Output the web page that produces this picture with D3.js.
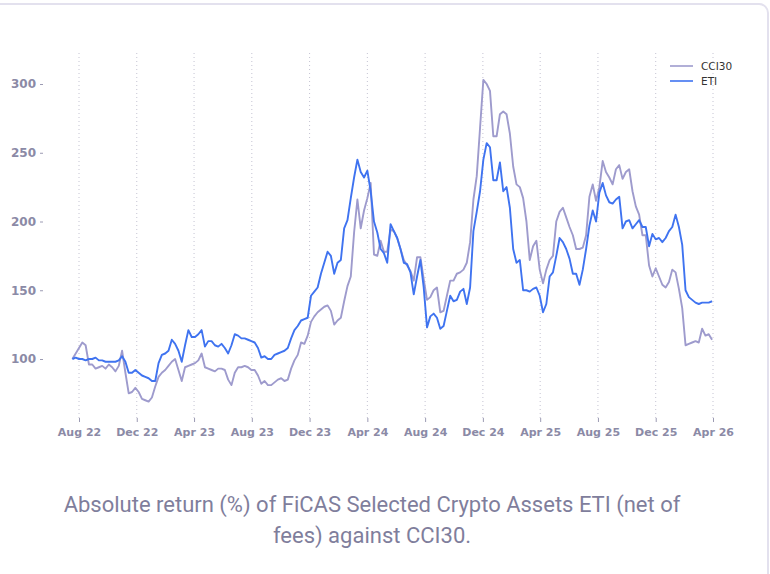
<!DOCTYPE html>
<html>
<head>
<meta charset="utf-8">
<script src="https://cdn.jsdelivr.net/npm/d3@7"></script>
<style>
  html, body { margin: 0; padding: 0; background: #ffffff; }
  .axis text { font-family: "DejaVu Sans", sans-serif; font-weight: bold; font-size: 11px; fill: #8b8aa6; }
  .axis.y text { font-size: 12px; }
  .axis line { stroke: #9c9bb3; }
  .axis path { display: none; }
  .legend text { font-family: "DejaVu Sans", sans-serif; font-size: 10.5px; fill: #333; }
  .caption { font-family: Roboto, "Noto Sans", sans-serif; font-size: 22px; fill: #7f7e9c; }
</style>
</head>
<body>
<div id="chart"></div>
<script>
// Data: weekly closes, absolute return (%)
// ================================
var weeks = (
  "2022-07-18 2022-07-25 2022-08-01 2022-08-08 2022-08-15 2022-08-22 2022-08-29 2022-09-05 2022-09-12 2022-09-19 " +
  "2022-09-26 2022-10-03 2022-10-10 2022-10-17 2022-10-24 2022-10-31 2022-11-07 2022-11-14 2022-11-21 2022-11-28 " +
  "2022-12-05 2022-12-12 2022-12-19 2022-12-26 2023-01-02 2023-01-09 2023-01-16 2023-01-23 2023-01-30 2023-02-06 " +
  "2023-02-13 2023-02-20 2023-02-27 2023-03-06 2023-03-13 2023-03-20 2023-03-27 2023-04-03 2023-04-10 2023-04-17 " +
  "2023-04-24 2023-05-01 2023-05-08 2023-05-15 2023-05-22 2023-05-29 2023-06-05 2023-06-12 2023-06-19 2023-06-26 " +
  "2023-07-03 2023-07-10 2023-07-17 2023-07-24 2023-07-31 2023-08-07 2023-08-14 2023-08-21 2023-08-28 2023-09-04 " +
  "2023-09-11 2023-09-18 2023-09-25 2023-10-02 2023-10-09 2023-10-16 2023-10-23 2023-10-30 2023-11-06 2023-11-13 " +
  "2023-11-20 2023-11-27 2023-12-04 2023-12-11 2023-12-18 2023-12-25 2024-01-01 2024-01-08 2024-01-15 2024-01-22 " +
  "2024-01-29 2024-02-05 2024-02-12 2024-02-19 2024-02-26 2024-03-04 2024-03-11 2024-03-18 2024-03-25 2024-04-01 " +
  "2024-04-08 2024-04-15 2024-04-22 2024-04-29 2024-05-06 2024-05-13 2024-05-20 2024-05-27 2024-06-03 2024-06-10 " +
  "2024-06-17 2024-06-24 2024-07-01 2024-07-08 2024-07-15 2024-07-22 2024-07-29 2024-08-05 2024-08-12 2024-08-19 " +
  "2024-08-26 2024-09-02 2024-09-09 2024-09-16 2024-09-23 2024-09-30 2024-10-07 2024-10-14 2024-10-21 2024-10-28 " +
  "2024-11-04 2024-11-11 2024-11-18 2024-11-25 2024-12-02 2024-12-09 2024-12-16 2024-12-23 2024-12-30 2025-01-06 " +
  "2025-01-13 2025-01-20 2025-01-27 2025-02-03 2025-02-10 2025-02-17 2025-02-24 2025-03-03 2025-03-10 2025-03-17 " +
  "2025-03-24 2025-03-31 2025-04-07 2025-04-14 2025-04-21 2025-04-28 2025-05-05 2025-05-12 2025-05-19 2025-05-26 " +
  "2025-06-02 2025-06-09 2025-06-16 2025-06-23 2025-06-30 2025-07-07 2025-07-14 2025-07-21 2025-07-28 2025-08-04 " +
  "2025-08-11 2025-08-18 2025-08-25 2025-09-01 2025-09-08 2025-09-15 2025-09-22 2025-09-29 2025-10-06 2025-10-13 " +
  "2025-10-20 2025-10-27 2025-11-03 2025-11-10 2025-11-17 2025-11-24 2025-12-01 2025-12-08 2025-12-15 2025-12-22 " +
  "2025-12-29 2026-01-05 2026-01-12 2026-01-19 2026-01-26 2026-02-02 2026-02-09 2026-02-16 2026-02-23 2026-03-02 " +
  "2026-03-09 2026-03-16 2026-03-23 2026-03-30"
).split(" ");

var cci30 = [
  100, 104, 108, 112, 110, 96, 96, 93, 94, 95,
  93, 96, 94, 91, 95, 106, 90, 75, 76, 79,
  76, 71, 70, 69, 72, 80, 87, 90, 92, 95,
  98, 100, 92, 84, 94, 95, 96, 97, 99, 104,
  94, 93, 92, 91, 93, 93, 92, 85, 81, 90,
  94, 94, 95, 94, 92, 92, 88, 82, 84, 81,
  81, 83, 85, 86, 84, 85, 93, 99, 103, 112,
  111, 117, 127, 131, 134, 136, 138, 139, 135, 125,
  128, 130, 142, 153, 160, 192, 216, 195, 208, 217,
  228, 176, 175, 186, 178, 178, 194, 193, 188, 180,
  172, 168, 164, 157, 174, 174, 158, 143, 145, 150,
  152, 134, 135, 146, 157, 157, 162, 163, 165, 170,
  185, 216, 233, 268, 303, 300, 295, 262, 262, 278,
  280, 278, 264, 240, 227, 225, 217, 200, 172, 182,
  186, 165, 155, 165, 172, 175, 200, 207, 210, 203,
  196, 190, 180, 180, 181, 190, 218, 227, 215, 225,
  244, 236, 232, 227, 238, 241, 231, 236, 238, 222,
  211, 205, 190, 190, 168, 160, 166, 160, 154, 152,
  156, 165, 163, 151, 137, 110, 111, 112, 113, 112,
  122, 117, 118, 114
];

var eti = [
  100, 101, 100, 100, 99, 100, 100, 101, 99, 99,
  98, 98, 98, 98, 99, 102, 98, 90, 90, 92,
  90, 88, 87, 86, 84, 84, 97, 103, 104, 106,
  114, 111, 106, 98, 110, 121, 116, 116, 118, 121,
  109, 113, 113, 110, 109, 111, 108, 104, 110, 118,
  117, 115, 115, 114, 113, 112, 108, 101, 102, 100,
  100, 103, 104, 105, 106, 108, 115, 121, 124, 128,
  129, 130, 146, 149, 152, 162, 170, 178, 175, 162,
  170, 172, 195, 201, 217, 232, 245, 236, 232, 237,
  222, 200, 192, 180, 177, 170, 198, 193, 188, 180,
  170, 169, 163, 147, 160, 172, 152, 123, 131, 133,
  130, 122, 124, 135, 146, 142, 143, 149, 151, 140,
  152, 193, 207, 222, 245, 257, 254, 230, 230, 243,
  222, 225, 210, 180, 170, 172, 150, 150, 149, 151,
  152, 146, 134, 140, 160, 163, 175, 188, 185, 180,
  173, 162, 162, 154, 165, 180, 197, 208, 200, 221,
  228, 219, 214, 213, 216, 218, 195, 200, 201, 195,
  198, 201, 196, 196, 182, 191, 187, 188, 185, 188,
  193, 196, 205, 196, 183, 150, 145, 143, 141, 140,
  141, 141, 141, 142
];

var seriesNames = ["CCI30", "ETI"];
var seriesColors = ["#9e9bcd", "#3f73f0"];
var xTickDates = ["2022-08-01", "2022-12-01", "2023-04-01", "2023-08-01", "2023-12-01", "2024-04-01",
                  "2024-08-01", "2024-12-01", "2025-04-01", "2025-08-01", "2025-12-01", "2026-04-01"];
var yTickValues = [100, 150, 200, 250, 300];
var captionLines = ["Absolute return (%) of FiCAS Selected Crypto Assets ETI (net of", "fees) against CCI30."];

// Set up the svg
// ================================
var svgWidth = 770;
var svgHeight = 574;

var svg = d3.select("#chart")
  .append("svg")
  .attr("width", svgWidth)
  .attr("height", svgHeight)
  .style("display", "block");

// card frame
svg.append("rect")
  .attr("x", -20)
  .attr("y", 4)
  .attr("width", 788)
  .attr("height", 620)
  .attr("rx", 9)
  .attr("fill", "#ffffff")
  .attr("stroke", "#e3e1ee")
  .attr("stroke-width", 2);

// Scales
// ================================
var parseDate = d3.timeParse("%Y-%m-%d");
var dates = weeks.map(parseDate);
var xTicks = xTickDates.map(parseDate);

var xScale = d3.scaleTime()
  .domain([xTicks[0], xTicks[xTicks.length - 1]])
  .range([79, 713]);

var yScale = d3.scaleLinear()
  .domain([100, 300])
  .range([359, 84]);

var plotTop = 53;
var plotBottom = 418;

// dotted vertical gridlines
svg.append("g")
  .selectAll("line")
  .data(xTicks)
  .enter()
  .append("line")
  .attr("x1", d => xScale(d))
  .attr("x2", d => xScale(d))
  .attr("y1", plotTop)
  .attr("y2", plotBottom)
  .attr("stroke", "#c4c3d2")
  .attr("stroke-width", 1)
  .attr("stroke-dasharray", "1,3");

// Axes
// ================================
var bottomAxis = d3.axisBottom(xScale)
  .tickValues(xTicks)
  .tickFormat(d3.timeFormat("%b %y"))
  .tickSize(4)
  .tickPadding(6);

var leftAxis = d3.axisLeft(yScale)
  .tickValues(yTickValues)
  .tickSize(3)
  .tickPadding(4);

svg.append("g")
  .attr("class", "axis x")
  .attr("transform", `translate(0, ${plotBottom})`)
  .call(bottomAxis);

svg.append("g")
  .attr("class", "axis y")
  .attr("transform", "translate(43, 0)")
  .call(leftAxis);

// Lines
// ================================
var line = d3.line()
  .x(d => xScale(d.date))
  .y(d => yScale(d.value));

[cci30, eti].forEach(function(values, i) {
  var points = values.map((v, j) => ({ date: dates[j], value: v }));
  svg.append("path")
    .datum(points)
    .attr("fill", "none")
    .attr("stroke", seriesColors[i])
    .attr("stroke-width", 1.9)
    .attr("stroke-linejoin", "round")
    .attr("d", line);
});

// Legend
// ================================
var legend = svg.append("g").attr("class", "legend");
seriesNames.forEach(function(name, i) {
  var ly = 66 + i * 15;
  legend.append("line")
    .attr("x1", 670).attr("x2", 693)
    .attr("y1", ly).attr("y2", ly)
    .attr("stroke", seriesColors[i])
    .attr("stroke-width", 1.6);
  legend.append("text")
    .attr("x", 701)
    .attr("y", ly + 4)
    .text(name);
});

// Caption
// ================================
svg.append("g")
  .selectAll("text")
  .data(captionLines)
  .enter()
  .append("text")
  .attr("class", "caption")
  .attr("x", 372)
  .attr("y", (d, i) => 512 + i * 31)
  .attr("text-anchor", "middle")
  .text(d => d);
</script>
</body>
</html>
